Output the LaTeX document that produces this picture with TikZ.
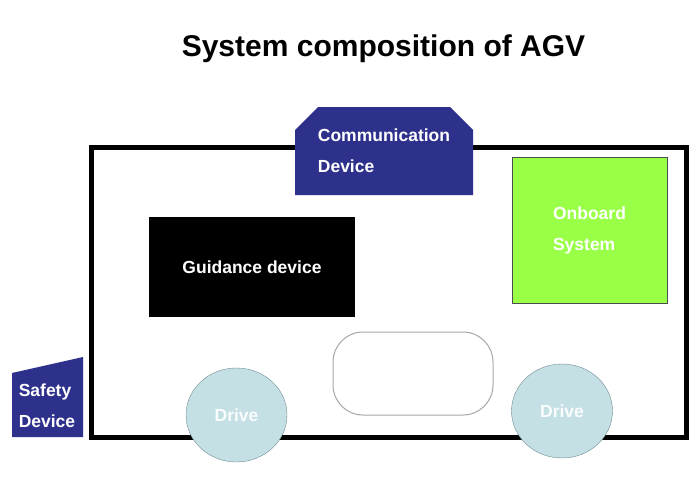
\documentclass[tikz,border=0pt]{standalone}
\usepackage{fontspec}
\setmainfont{Liberation Sans}
\usetikzlibrary{shapes.geometric,shapes.misc,positioning}

\definecolor{navyblue}{RGB}{46,49,140}
\definecolor{boardgreen}{RGB}{153,255,71}
\definecolor{drivefill}{RGB}{197,224,228}
\definecolor{driveline}{RGB}{110,140,145}

\begin{document}
\begin{tikzpicture}[x=1pt,y=-1pt,font=\bfseries\fontsize{17.5}{31}\selectfont]
  \tikzstyle{every node}=[inner sep=0pt,outer sep=0pt]
  \tikzstyle{unit}=[text=white,align=left]
  \tikzstyle{drive}=[ellipse,draw=driveline,fill=drivefill,text=white!92!drivefill,
                     minimum width=101pt,minimum height=94pt]
\useasboundingbox (0,0) rectangle (700,500);
\node [anchor=base,font=\bfseries\fontsize{30}{36}\selectfont] (title) at (383.5,57) {System composition of AGV};
\draw [line width=5pt] (91.5,147) rectangle (686,437);
\node [unit,chamfered rectangle,chamfered rectangle corners={north west,north east},
       chamfered rectangle xsep=11pt,chamfered rectangle ysep=12pt,fill=navyblue,
       minimum width=178pt,minimum height=88pt] (comm) at (384,151) {Communication\\Device};
\node [unit,fill=boardgreen,draw=black!70,minimum width=155pt,minimum height=146pt] (onboard) at (589.5,230) {Onboard\\System};
\node [fill=black,text=white,minimum width=206pt,minimum height=100pt] (guide) at (252,267) {Guidance device};
\node [draw=black!35,line width=1pt,rounded corners=30pt,minimum width=160pt,minimum height=83pt] (body) at (413,373.5) {};
\node [drive] (driveL) at (236.5,415) {Drive};
\node [drive] (driveR) at (562,411) {Drive};
\fill [navyblue] (12,373) -- (83,357) -- (83,437) -- (12,437) -- cycle;
\node [unit] (safety) at (47,405.5) {Safety\\Device};
\end{tikzpicture}
\end{document}
